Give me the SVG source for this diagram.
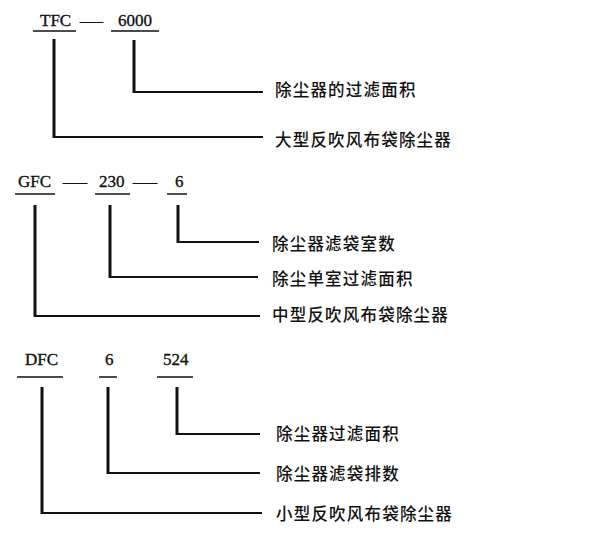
<svg xmlns="http://www.w3.org/2000/svg" width="599" height="557" viewBox="0 0 599 557">
<style>
.code{font-family:"Liberation Serif","Times New Roman",serif;font-size:17px;fill:#111;stroke:#111;stroke-width:0.35}
.lbl{font-family:"Noto Sans CJK SC","Noto Sans",sans-serif;font-size:16.5px;font-weight:500;fill:#111;letter-spacing:1.2px}
.ul{stroke:#111;stroke-width:1.5;fill:none}
.con{stroke:#111;fill:none;stroke-linejoin:miter}
.v{stroke-width:3}
.h{stroke-width:2}
</style>
<rect width="599" height="557" fill="#fff"/>
<g id="tfc-code">
<text class="code" x="40" y="26">TFC</text>
<line class="ul" x1="33" y1="31" x2="76" y2="31"/>
<text class="code" x="80" y="26" textLength="23" lengthAdjust="spacingAndGlyphs">—</text>
<text class="code" x="118" y="26">6000</text>
<line class="ul" x1="111" y1="31" x2="159" y2="31"/>
</g>
<g id="tfc-label1"><text class="lbl" x="275" y="96">除尘器的过滤面积</text></g>
<g id="tfc-label2"><text class="lbl" x="275" y="146">大型反吹风布袋除尘器</text></g>
<g id="gfc-code">
<text class="code" x="18" y="187">GFC</text>
<line class="ul" x1="15" y1="194" x2="55" y2="194"/>
<text class="code" x="63" y="187" textLength="24" lengthAdjust="spacingAndGlyphs">—</text>
<text class="code" x="99" y="187">230</text>
<line class="ul" x1="95" y1="194" x2="130" y2="194"/>
<text class="code" x="133" y="187" textLength="24" lengthAdjust="spacingAndGlyphs">—</text>
<text class="code" x="175" y="187">6</text>
<line class="ul" x1="167" y1="194" x2="187" y2="194"/>
</g>
<g id="gfc-label1"><text class="lbl" x="272" y="250">除尘器滤袋室数</text></g>
<g id="gfc-label2"><text class="lbl" x="272" y="285">除尘单室过滤面积</text></g>
<g id="gfc-label3"><text class="lbl" x="272" y="321">中型反吹风布袋除尘器</text></g>
<g id="dfc-code">
<text class="code" x="25" y="365">DFC</text>
<line class="ul" x1="17" y1="377" x2="63" y2="377"/>
<text class="code" x="105" y="365">6</text>
<line class="ul" x1="99" y1="377" x2="117" y2="377"/>
<text class="code" x="163" y="365">524</text>
<line class="ul" x1="157" y1="377" x2="193" y2="377"/>
</g>
<g id="dfc-label1"><text class="lbl" x="276" y="440">除尘器过滤面积</text></g>
<g id="dfc-label2"><text class="lbl" x="276" y="480">除尘器滤袋排数</text></g>
<g id="dfc-label3"><text class="lbl" x="276" y="520">小型反吹风布袋除尘器</text></g>
<g id="connectors">
<line class="con v" x1="134" y1="40" x2="134" y2="93"/>
<line class="con h" x1="133" y1="92" x2="263" y2="92"/>
<line class="con v" x1="54" y1="39" x2="54" y2="138"/>
<line class="con h" x1="53" y1="137" x2="263" y2="137"/>
<line class="con v" x1="178" y1="205" x2="178" y2="243"/>
<line class="con h" x1="177" y1="242" x2="259" y2="242"/>
<line class="con v" x1="110" y1="205" x2="110" y2="278"/>
<line class="con h" x1="109" y1="277" x2="258" y2="277"/>
<line class="con v" x1="35" y1="205" x2="35" y2="317"/>
<line class="con h" x1="34" y1="316" x2="260" y2="316"/>
<line class="con v" x1="177" y1="387" x2="177" y2="435"/>
<line class="con h" x1="176" y1="434" x2="260" y2="434"/>
<line class="con v" x1="108" y1="387" x2="108" y2="474"/>
<line class="con h" x1="107" y1="473" x2="260" y2="473"/>
<line class="con v" x1="42" y1="387" x2="42" y2="514"/>
<line class="con h" x1="41" y1="513" x2="262" y2="513"/>
</g>
</svg>
